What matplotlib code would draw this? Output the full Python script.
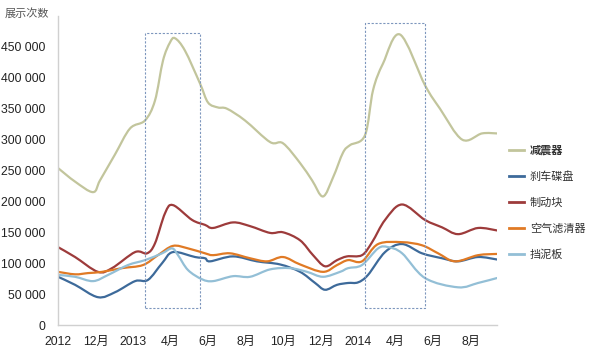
import numpy as np
import matplotlib
matplotlib.use("Agg")
import matplotlib.pyplot as plt
from matplotlib.path import Path
from matplotlib.patches import PathPatch, Rectangle
from matplotlib.lines import Line2D
from matplotlib.ticker import FuncFormatter

plt.rcParams["font.family"] = ["Liberation Sans", "Noto Sans CJK SC", "DejaVu Sans"]

# x = months since Oct 2012, values in thousands of impressions
tick_pos = [0, 2, 4, 6, 8, 10, 12, 14, 16, 18, 20, 22]
tick_labels = ["2012", "12月", "2013", "4月", "6月", "8月", "10月", "12月",
               "2014", "4月", "6月", "8月"]

shock_x = [0, 0.91, 1.87, 2.24, 3.04, 3.84, 4.64, 5.17, 5.6, 5.97, 6.24, 6.77,
           7.57, 8.0, 8.53, 9.01, 9.97, 11.31, 12.0, 12.91, 13.55, 14.13, 14.67,
           15.2, 15.57, 16.37, 16.8, 17.33, 18.24, 19.57, 20.37, 21.55, 22.61, 23.41]
shock_y = [254, 232, 215, 234, 276, 318, 331, 363, 428, 457, 464, 444,
           391, 360, 352, 350, 331, 296, 294, 262, 234, 208, 239,
           279, 291, 307, 380, 423, 470, 388, 350, 300, 310, 310]

disc_x = [0, 0.91, 2.13, 3.04, 4.11, 4.8, 5.55, 6.13, 7.31, 7.84, 8.11, 9.33,
          10.61, 11.84, 12.91, 13.71, 14.24, 14.88, 15.47, 16.0, 16.53, 17.44,
          18.35, 19.41, 20.48, 21.33, 22.4, 23.41]
disc_y = [78, 65, 45, 53, 71, 73, 100, 118, 110, 108, 103, 111,
          103, 98, 86, 68, 57, 65, 68, 69, 81, 118,
          131, 116, 108, 103, 110, 106]

pad_x = [0, 0.91, 2.13, 2.88, 4.11, 4.75, 5.17, 5.71, 6.13, 7.15, 7.84, 8.27,
         9.33, 10.24, 11.31, 12.0, 12.91, 13.6, 14.24, 14.88, 15.41, 16.21,
         16.75, 17.44, 18.35, 19.57, 20.48, 21.33, 22.4, 23.41]
pad_y = [126, 110, 86, 92, 118, 116, 132, 181, 194, 170, 162, 157,
         166, 160, 149, 150, 137, 113, 95, 105, 111, 113,
         134, 170, 195, 170, 158, 147, 157, 153]

air_x = [0, 0.91, 1.6, 2.35, 3.41, 4.53, 5.33, 6.13, 6.93, 7.84, 8.27, 9.17,
         10.24, 11.15, 12.0, 12.91, 14.13, 14.88, 15.47, 16.21, 17.07, 18.35,
         19.41, 20.27, 21.17, 22.4, 23.41]
air_y = [86, 82, 84, 86, 92, 97, 113, 128, 124, 116, 113, 116,
         108, 103, 110, 98, 86, 97, 105, 103, 131, 134,
         129, 116, 103, 113, 115]

fender_x = [0, 0.91, 1.87, 2.67, 3.73, 4.64, 5.55, 6.08, 6.4, 6.93, 7.68, 8.27,
            9.33, 10.24, 11.31, 12.37, 13.28, 14.13, 15.04, 15.47, 16.21, 17.07,
            17.6, 18.35, 19.57, 21.33, 22.4, 23.41]
fender_y = [81, 78, 71, 81, 97, 105, 116, 124, 113, 89, 74, 71,
            79, 78, 90, 92, 86, 78, 86, 92, 97, 124,
            126, 116, 76, 61, 68, 76]

series = [
    ("减震器", shock_x, shock_y, "#c2c59c"),
    ("刹车碟盘", disc_x, disc_y, "#3d6a9a"),
    ("制动块", pad_x, pad_y, "#9d3b3b"),
    ("空气滤清器", air_x, air_y, "#e07a25"),
    ("挡泥板", fender_x, fender_y, "#93bfd6"),
]


def smooth_path(xs, ys):
    # Catmull-Rom through the read points, drawn as cubic Bezier (like Excel "smoothed line")
    pts = np.column_stack([xs, ys]).astype(float)
    verts = [pts[0]]
    codes = [Path.MOVETO]
    n = len(pts)
    for i in range(n - 1):
        p0 = pts[max(i - 1, 0)]
        p1 = pts[i]
        p2 = pts[i + 1]
        p3 = pts[min(i + 2, n - 1)]
        verts += [p1 + (p2 - p0) / 6, p2 - (p3 - p1) / 6, p2]
        codes += [Path.CURVE4] * 3
    return Path(verts, codes)


fig = plt.figure(figsize=(5.9, 3.54), dpi=100)
ax = fig.add_axes([58 / 590, 1 - 325 / 354, (497 - 58) / 590, (325 - 16) / 354])

handles = []
for name, xs, ys, color in series:
    yv = np.array(ys) * 1000
    ax.add_patch(PathPatch(smooth_path(xs, yv), facecolor="none",
                           edgecolor=color, lw=1.6, capstyle="round"))
    handles.append(Line2D([], [], color=color, lw=2.0, label=name))

# highlighted spring periods (dashed boxes)
for x0, x1, top in [(4.64, 7.57, 472000), (16.37, 19.57, 489000)]:
    ax.add_patch(Rectangle((x0, 28000), x1 - x0, top - 28000, fill=False,
                           ec="#7d96bd", lw=0.8, ls=(0, (2, 1.5))))

ax.set_xlim(0, 23.41)
ax.set_ylim(0, 500000)
ax.set_yticks(np.arange(0, 450001, 50000))
ax.yaxis.set_major_formatter(FuncFormatter(lambda v, p: f"{int(v):,}".replace(",", " ")))
ax.set_xticks(tick_pos)
ax.set_xticklabels(tick_labels)
ax.tick_params(axis="both", length=0, labelsize=8.8, colors="#222222")
ax.tick_params(axis="y", pad=9)
ax.tick_params(axis="x", pad=8)
for s in ("top", "right"):
    ax.spines[s].set_visible(False)
for s in ("left", "bottom"):
    ax.spines[s].set_color("#d0d0d0")
    ax.spines[s].set_linewidth(1.0)

fig.text(5 / 590, 1 - 13 / 354, "展示次数", fontsize=8, color="#555555", va="center")

leg = fig.legend(handles=handles, loc="upper left", bbox_to_anchor=(505 / 590, 1 - 141 / 354),
                 frameon=False, fontsize=8, handlelength=1.3, handletextpad=0.55,
                 labelspacing=1.4, borderaxespad=0)
for t in leg.get_texts():
    t.set_color("#333333")
leg.get_texts()[0].set_fontweight("bold")

fig.savefig("out.png", dpi=100)
